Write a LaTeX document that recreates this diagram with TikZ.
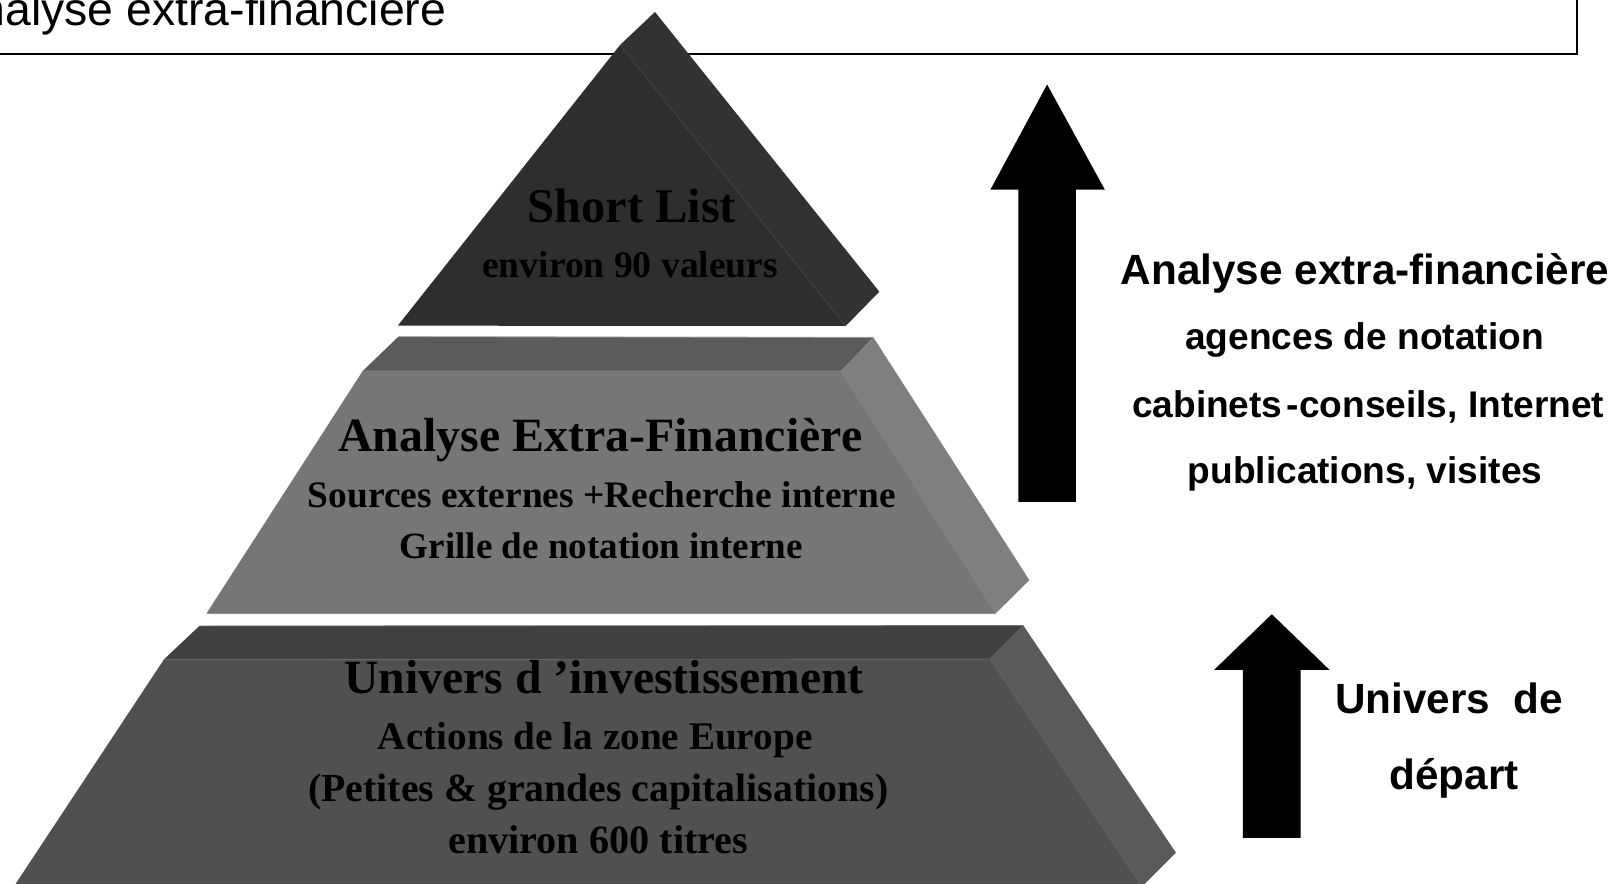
\documentclass[tikz,border=0pt]{standalone}
\usepackage{fontspec}
\setmainfont{Liberation Serif}
\newfontfamily\arialf{Liberation Sans}
\newcommand\fsz[1]{\fontsize{#1}{#1}\selectfont}
\definecolor{tfront}{HTML}{2E2E2E}
\definecolor{tside}{HTML}{323232}
\definecolor{mtop}{HTML}{5B5B5B}
\definecolor{mfront}{HTML}{767676}
\definecolor{mside}{HTML}{7F7F7F}
\definecolor{btop}{HTML}{404040}
\definecolor{bfront}{HTML}{505050}
\definecolor{bside}{HTML}{5A5A5A}
\tikzset{
  txt/.style={inner sep=0pt, outer sep=0pt, anchor=base},
  sertxt/.style={txt, font=\bfseries},
  sanstxt/.style={txt, font=\arialf\bfseries},
  edge/.style={line width=0.8pt},
  blockarrow/.style={fill=black, draw=none}
}
\begin{document}
\begin{tikzpicture}[x=1pt,y=-1pt]
\useasboundingbox (0,0) rectangle (1568,857);
\clip (0,0) rectangle (1568,857);
\fill[white] (0,0) rectangle (1568,857);

% title frame
\draw[line width=1.8pt] (-20,-20) rectangle (1530,52);
\node[txt, anchor=base east, font=\arialf\fsz{45}] (title) at (433,25) {Analyse extra-financière};

% ---------- top tier ----------
\coordinate (tT) at (601.6,43.7);
\coordinate (tBL) at (386,316);
\coordinate (tBR) at (820.6,316.3);
\coordinate (tApex) at (635.5,11.6);
\coordinate (tSide) at (853.2,283);
\fill[tside] (tT) -- (tApex) -- (tSide) -- (tBR) -- cycle;
\fill[tfront] (tT) -- (tBL) -- (tBR) -- cycle;
\draw[edge, color=tside!92!white] (tT) -- (tBR);

% ---------- middle tier ----------
\coordinate (mFL) at (351.9,360);
\coordinate (mFR) at (816,360);
\coordinate (mBR) at (966.4,595);
\coordinate (mBL) at (200.5,595);
\coordinate (mTL) at (386.5,326.7);
\coordinate (mTR) at (847.4,327.3);
\coordinate (mSide) at (998.7,562.8);
\fill[mtop] (mTL) -- (mTR) -- (mFR) -- (mFL) -- cycle;
\fill[mside] (mFR) -- (mTR) -- (mSide) -- (mBR) -- cycle;
\fill[mfront] (mFL) -- (mFR) -- (mBR) -- (mBL) -- cycle;
\draw[edge, color=mfront!90!white] (mFL) -- (mFR) -- (mBR);
\draw[edge, color=mside!75!white] (mTL) -- (mTR);
\draw[edge, color=mfront!80!white] (mBL) -- (mBR);

% ---------- bottom tier ----------
\coordinate (bFL) at (159.1,639.8);
\coordinate (bFR) at (960.6,639.5);
\coordinate (bBR) at (1108,860.4);
\coordinate (bBL) at (13.3,860.4);
\coordinate (bTL) at (193.4,607.4);
\coordinate (bTR) at (993,607);
\coordinate (bSide) at (1141,827.4);
\fill[btop] (bTL) -- (bTR) -- (bFR) -- (bFL) -- cycle;
\fill[bside] (bFR) -- (bTR) -- (bSide) -- (bBR) -- cycle;
\fill[bfront] (bFL) -- (bFR) -- (bBR) -- (bBL) -- cycle;
\draw[edge, color=bfront!90!white] (bFL) -- (bFR) -- (bBR);
\draw[edge, color=btop!75!white] (bTL) -- (bTR);

% ---------- pyramid texts ----------
\node[sertxt, font=\bfseries\fsz{47}] (sl) at (613,216) {Short List};
\node[sertxt, font=\bfseries\fsz{36.5}] (sl2) at (611.5,269) {environ 90 valeurs};

\node[sertxt, font=\bfseries\fsz{46.4}] (ae) at (582.5,438) {Analyse Extra-Financière};
\node[sertxt, font=\bfseries\fsz{36.3}] (ae2) at (584,492) {Sources externes +Recherche interne};
\node[sertxt, font=\bfseries\fsz{36}] (ae3) at (583.5,542) {Grille de notation interne};

\node[sertxt, font=\bfseries\fsz{46.3}] (ui) at (586,673) {Univers d ’investissement};
\node[sertxt, font=\bfseries\fsz{38}] (ui2) at (577.5,727) {Actions de la zone Europe};
\node[sertxt, font=\bfseries\fsz{38.6}] (ui3) at (580.5,778) {(Petites \& grandes capitalisations)};
\node[sertxt, font=\bfseries\fsz{39}] (ui4) at (580.5,828) {environ 600 titres};

% ---------- arrows ----------
\coordinate (a1tip) at (1016,82);
\coordinate (a1hl) at (961,184);
\coordinate (a1hr) at (1072,184);
\coordinate (a1sl) at (988,184);
\coordinate (a1sr) at (1044,184);
\coordinate (a1bl) at (988,487);
\coordinate (a1br) at (1044,487);
\fill[blockarrow] (a1tip) -- (a1hr) -- (a1sr) -- (a1br) -- (a1bl) -- (a1sl) -- (a1hl) -- cycle;

\coordinate (a2tip) at (1234,596);
\coordinate (a2hl) at (1178,650);
\coordinate (a2hr) at (1290,650);
\coordinate (a2sl) at (1206,650);
\coordinate (a2sr) at (1262,650);
\coordinate (a2bl) at (1206,813);
\coordinate (a2br) at (1262,813);
\fill[blockarrow] (a2tip) -- (a2hr) -- (a2sr) -- (a2br) -- (a2bl) -- (a2sl) -- (a2hl) -- cycle;

% ---------- right texts ----------
\node[sanstxt, font=\arialf\bfseries\fsz{41}] (r1) at (1324.5,276) {Analyse extra-financière};
\node[sanstxt, font=\arialf\bfseries\fsz{36}] (r2) at (1324,339) {agences de notation};
\node[sanstxt, font=\arialf\bfseries\fsz{36}] (r3) at (1327.5,405) {cabinets\kern4pt-conseils, Internet};
\node[sanstxt, font=\arialf\bfseries\fsz{36}] (r4) at (1324.5,469) {publications, visites};

\node[sanstxt, font=\arialf\bfseries\fsz{41}] (u1) at (1406,692) {Univers\ \ de};
\node[sanstxt, font=\arialf\bfseries\fsz{41}] (u2) at (1411,766) {départ};
\end{tikzpicture}
\end{document}
